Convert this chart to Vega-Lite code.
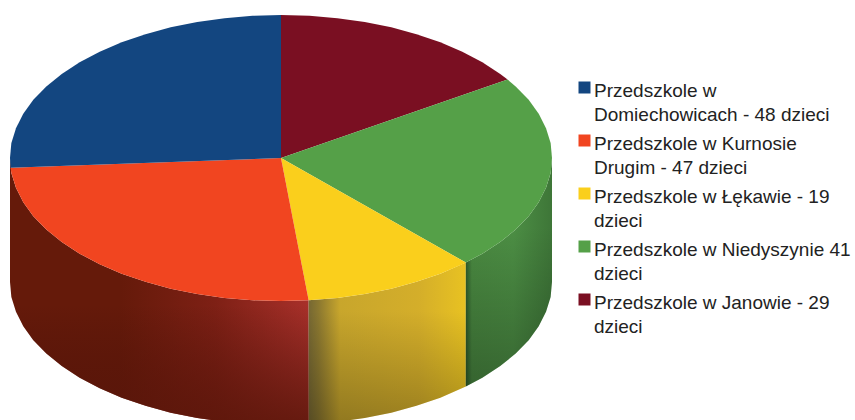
{"$schema":"https://vega.github.io/schema/vega-lite/v6.json","width":855,"height":420,"padding":0,"autosize":{"type":"none"},"background":"white","config":{"view":{"stroke":null},"style":{"guide-label":{"dy":-6,"lineHeight":24}}},
"datasets":{
"slices":[{"k":"D","label":"Przedszkole w|Domiechowicach - 48 dzieci","dzieci":48},{"k":"K","label":"Przedszkole w Kurnosie|Drugim - 47 dzieci","dzieci":47},{"k":"L","label":"Przedszkole w Łękawie - 19|dzieci","dzieci":19},{"k":"N","label":"Przedszkole w Niedyszynie 41|dzieci","dzieci":41},{"k":"J","label":"Przedszkole w Janowie - 29|dzieci","dzieci":29}],
"top":[
{"k":"J","i":0,"x":0,"y":0},{"k":"J","i":1,"x":0,"y":1},{"k":"J","i":2,"x":0.105,"y":0.995},{"k":"J","i":3,"x":0.208,"y":0.978},{"k":"J","i":4,"x":0.309,"y":0.951},{"k":"J","i":5,"x":0.407,"y":0.914},{"k":"J","i":6,"x":0.5,"y":0.866},{"k":"J","i":7,"x":0.588,"y":0.809},{"k":"J","i":8,"x":0.669,"y":0.743},{"k":"J","i":9,"x":0.743,"y":0.669},{"k":"J","i":10,"x":0.809,"y":0.588},{"k":"J","i":11,"x":0.836,"y":0.549},
{"k":"N","i":0,"x":0,"y":0},{"k":"N","i":1,"x":0.836,"y":0.549},{"k":"N","i":2,"x":0.866,"y":0.5},{"k":"N","i":3,"x":0.914,"y":0.407},{"k":"N","i":4,"x":0.951,"y":0.309},{"k":"N","i":5,"x":0.978,"y":0.208},{"k":"N","i":6,"x":0.995,"y":0.105},{"k":"N","i":7,"x":1,"y":0},{"k":"N","i":8,"x":0.995,"y":-0.105},{"k":"N","i":9,"x":0.978,"y":-0.208},{"k":"N","i":10,"x":0.951,"y":-0.309},{"k":"N","i":11,"x":0.914,"y":-0.407},{"k":"N","i":12,"x":0.866,"y":-0.5},{"k":"N","i":13,"x":0.809,"y":-0.588},{"k":"N","i":14,"x":0.743,"y":-0.669},{"k":"N","i":15,"x":0.682,"y":-0.731},
{"k":"L","i":0,"x":0,"y":0},{"k":"L","i":1,"x":0.682,"y":-0.731},{"k":"L","i":2,"x":0.669,"y":-0.743},{"k":"L","i":3,"x":0.588,"y":-0.809},{"k":"L","i":4,"x":0.5,"y":-0.866},{"k":"L","i":5,"x":0.407,"y":-0.914},{"k":"L","i":6,"x":0.309,"y":-0.951},{"k":"L","i":7,"x":0.208,"y":-0.978},{"k":"L","i":8,"x":0.102,"y":-0.995},
{"k":"K","i":0,"x":0,"y":0},{"k":"K","i":1,"x":0.102,"y":-0.995},{"k":"K","i":2,"x":0,"y":-1},{"k":"K","i":3,"x":-0.105,"y":-0.995},{"k":"K","i":4,"x":-0.208,"y":-0.978},{"k":"K","i":5,"x":-0.309,"y":-0.951},{"k":"K","i":6,"x":-0.407,"y":-0.914},{"k":"K","i":7,"x":-0.5,"y":-0.866},{"k":"K","i":8,"x":-0.588,"y":-0.809},{"k":"K","i":9,"x":-0.669,"y":-0.743},{"k":"K","i":10,"x":-0.743,"y":-0.669},{"k":"K","i":11,"x":-0.809,"y":-0.588},{"k":"K","i":12,"x":-0.866,"y":-0.5},{"k":"K","i":13,"x":-0.914,"y":-0.407},{"k":"K","i":14,"x":-0.951,"y":-0.309},{"k":"K","i":15,"x":-0.978,"y":-0.208},{"k":"K","i":16,"x":-0.995,"y":-0.105},{"k":"K","i":17,"x":-0.998,"y":-0.068},
{"k":"D","i":0,"x":0,"y":0},{"k":"D","i":1,"x":-0.998,"y":-0.068},{"k":"D","i":2,"x":-1,"y":0},{"k":"D","i":3,"x":-0.995,"y":0.105},{"k":"D","i":4,"x":-0.978,"y":0.208},{"k":"D","i":5,"x":-0.951,"y":0.309},{"k":"D","i":6,"x":-0.914,"y":0.407},{"k":"D","i":7,"x":-0.866,"y":0.5},{"k":"D","i":8,"x":-0.809,"y":0.588},{"k":"D","i":9,"x":-0.743,"y":0.669},{"k":"D","i":10,"x":-0.669,"y":0.743},{"k":"D","i":11,"x":-0.588,"y":0.809},{"k":"D","i":12,"x":-0.5,"y":0.866},{"k":"D","i":13,"x":-0.407,"y":0.914},{"k":"D","i":14,"x":-0.309,"y":0.951},{"k":"D","i":15,"x":-0.208,"y":0.978},{"k":"D","i":16,"x":-0.105,"y":0.995},{"k":"D","i":17,"x":0,"y":1}],
"side":[
{"k":"K","x":-1,"y":0,"y2":-0.867},{"k":"K","x":-0.995,"y":-0.105,"y2":-0.972},{"k":"K","x":-0.978,"y":-0.208,"y2":-1.075},{"k":"K","x":-0.951,"y":-0.309,"y2":-1.176},{"k":"K","x":-0.914,"y":-0.407,"y2":-1.274},{"k":"K","x":-0.866,"y":-0.5,"y2":-1.367},{"k":"K","x":-0.809,"y":-0.588,"y2":-1.455},{"k":"K","x":-0.743,"y":-0.669,"y2":-1.536},{"k":"K","x":-0.669,"y":-0.743,"y2":-1.61},{"k":"K","x":-0.588,"y":-0.809,"y2":-1.676},{"k":"K","x":-0.5,"y":-0.866,"y2":-1.733},{"k":"K","x":-0.407,"y":-0.914,"y2":-1.781},{"k":"K","x":-0.309,"y":-0.951,"y2":-1.818},{"k":"K","x":-0.208,"y":-0.978,"y2":-1.845},{"k":"K","x":-0.105,"y":-0.995,"y2":-1.862},{"k":"K","x":0,"y":-1,"y2":-1.867},{"k":"K","x":0.102,"y":-0.995,"y2":-1.862},
{"k":"L","x":0.102,"y":-0.995,"y2":-1.862},{"k":"L","x":0.208,"y":-0.978,"y2":-1.845},{"k":"L","x":0.309,"y":-0.951,"y2":-1.818},{"k":"L","x":0.407,"y":-0.914,"y2":-1.781},{"k":"L","x":0.5,"y":-0.866,"y2":-1.733},{"k":"L","x":0.588,"y":-0.809,"y2":-1.676},{"k":"L","x":0.682,"y":-0.731,"y2":-1.598},
{"k":"N","x":0.682,"y":-0.731,"y2":-1.598},{"k":"N","x":0.743,"y":-0.669,"y2":-1.536},{"k":"N","x":0.809,"y":-0.588,"y2":-1.455},{"k":"N","x":0.866,"y":-0.5,"y2":-1.367},{"k":"N","x":0.914,"y":-0.407,"y2":-1.274},{"k":"N","x":0.951,"y":-0.309,"y2":-1.176},{"k":"N","x":0.978,"y":-0.208,"y2":-1.075},{"k":"N","x":0.995,"y":-0.105,"y2":-0.972},{"k":"N","x":1,"y":0,"y2":-0.867}]
},
"encoding":{"x":{"field":"x","type":"quantitative","axis":null,"scale":{"domain":[-1.0369,2.1181],"nice":false,"zero":false}},"y":{"field":"y","type":"quantitative","axis":null,"scale":{"domain":[-1.832,1.105],"nice":false,"zero":false}}},
"layer":[
{"data":{"name":"side"},"transform":[{"filter":"datum.k==='K'"}],"mark":{"type":"area","clip":true,"fill":{"gradient":"linear","x1":0.3,"y1":0.5,"x2":1,"y2":0.5,"stops":[{"offset":0,"color":"#651a0a"},{"offset":0.1,"color":"#651a0a"},{"offset":0.55,"color":"#7e2015"},{"offset":1,"color":"#a8302a"}]}},"encoding":{"y2":{"field":"y2"}}},
{"data":{"name":"side"},"transform":[{"filter":"datum.k==='L'"}],"mark":{"type":"area","clip":true,"fill":{"gradient":"linear","x1":0,"y1":0,"x2":1,"y2":0,"stops":[{"offset":0,"color":"#766833"},{"offset":0.06,"color":"#8a7730"},{"offset":0.2,"color":"#c8a62c"},{"offset":0.7,"color":"#d4ae2a"},{"offset":1,"color":"#e8c222"}]}},"encoding":{"y2":{"field":"y2"}}},
{"data":{"name":"side"},"transform":[{"filter":"datum.k==='N'"}],"mark":{"type":"area","clip":true,"fill":{"gradient":"linear","x1":0,"y1":0,"x2":1,"y2":0,"stops":[{"offset":0,"color":"#2f5c2b"},{"offset":0.07,"color":"#4a8a41"},{"offset":0.55,"color":"#4c8e44"},{"offset":1,"color":"#3e7638"}]}},"encoding":{"y2":{"field":"y2"}}},
{"data":{"name":"side"},"mark":{"type":"area","clip":true,"fill":{"gradient":"linear","x1":0,"y1":0.3,"x2":0,"y2":1,"stops":[{"offset":0,"color":"rgba(0,0,0,0)"},{"offset":1,"color":"rgba(0,0,0,0.28)"}]}},"transform":[{"filter":"datum.k!=='K'"}],"encoding":{"y2":{"field":"y2"},"detail":{"field":"k"}}},
{"data":{"name":"side"},"transform":[{"filter":"datum.k==='K'"}],"mark":{"type":"area","clip":true,"fill":{"gradient":"linear","x1":0,"y1":0.55,"x2":0,"y2":1,"stops":[{"offset":0,"color":"rgba(70,15,8,0)"},{"offset":1,"color":"rgba(90,22,10,0.85)"}]}},"encoding":{"y2":{"field":"y2"}}},
{"data":{"name":"top"},"transform":[{"lookup":"k","from":{"data":{"name":"slices"},"key":"k","fields":["label","dzieci"]}}],"mark":{"type":"line","filled":true,"interpolate":"linear-closed"},"encoding":{"order":{"field":"i","type":"quantitative"},"color":{"field":"label","type":"nominal","scale":{"domain":["Przedszkole w|Domiechowicach - 48 dzieci","Przedszkole w Kurnosie|Drugim - 47 dzieci","Przedszkole w Łękawie - 19|dzieci","Przedszkole w Niedyszynie 41|dzieci","Przedszkole w Janowie - 29|dzieci"],"range":["#134680","#f14520","#facf1c","#55a048","#7a0f22"]},"legend":{"title":null,"orient":"none","legendX":575,"legendY":78,"symbolType":"square","symbolSize":144,"symbolStrokeWidth":0,"labelFont":"Liberation Sans","labelFontSize":19,"labelColor":"#222222","labelLimit":300,"labelOffset":0,"labelBaseline":"top","rowPadding":6,"labelExpr":"split(datum.label,'|')"}}}}
]}
